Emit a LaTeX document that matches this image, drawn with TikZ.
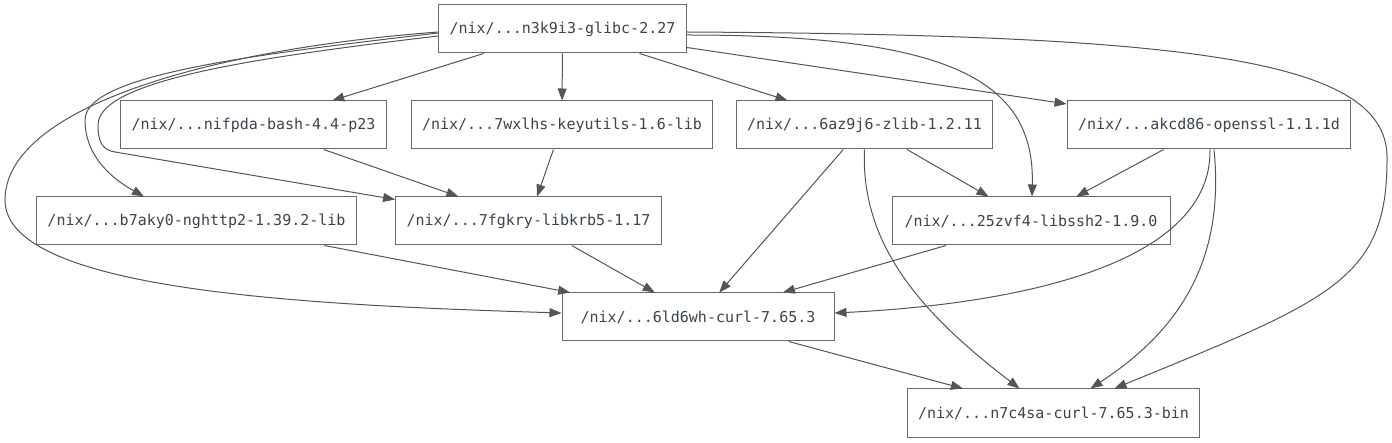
\documentclass[tikz,border=0pt]{standalone}
\usepackage{fontspec}
\setmonofont{DejaVu Sans Mono}
\usepackage{xcolor,tikz}
\usetikzlibrary{arrows.meta,calc}

\definecolor{edgegray}{RGB}{85,85,85}
\definecolor{boxgray}{RGB}{105,105,105}
\definecolor{txtgray}{RGB}{58,68,78}

\tikzset{
 pkg/.style={draw=boxgray,line width=1pt,minimum height=48pt,inner xsep=11pt,
  inner ysep=0pt,text=txtgray,font=\ttfamily\fontsize{15}{18}\selectfont},
 dep/.style={->,draw=edgegray,line width=1pt}
}

\begin{document}
\begin{tikzpicture}[x=1pt,y=-1pt,>={Triangle[length=12pt,width=9pt]}]
 \useasboundingbox (0,0) rectangle (1392,443);
 % packages
 \node[pkg] (glibc) at (562.5,29) {/nix/...n3k9i3-glibc-2.27};
 \node[pkg] (bash) at (253.5,125) {/nix/...nifpda-bash-4.4-p23};
 \node[pkg] (keyutils) at (562,125) {/nix/...7wxlhs-keyutils-1.6-lib};
 \node[pkg] (zlib) at (864.5,125) {/nix/...6az9j6-zlib-1.2.11};
 \node[pkg] (openssl) at (1209,125) {/nix/...akcd86-openssl-1.1.1d};
 \node[pkg] (nghttp2) at (196.5,221) {/nix/...b7aky0-nghttp2-1.39.2-lib};
 \node[pkg] (krb) at (528.5,221) {/nix/...7fgkry-libkrb5-1.17};
 \node[pkg,minimum width=278pt] (ssh) at (1031,221) {/nix/...25zvf4-libssh2-1.9.0};
 \node[pkg,minimum width=272pt] (curl) at (698,317) {/nix/...6ld6wh-curl-7.65.3};
 \node[pkg] (curlbin) at (1053.5,413) {/nix/...n7c4sa-curl-7.65.3-bin};

 % straight dependencies
 \draw[dep] (glibc) -- (bash);
 \draw[dep] (glibc) -- (keyutils);
 \draw[dep] (glibc) -- (zlib);
 \draw[dep] (glibc) -- (openssl);
 \draw[dep] (bash) -- (krb);
 \draw[dep] (keyutils) -- (krb);
 \draw[dep] (zlib) -- (ssh);
 \draw[dep] (zlib) -- (curl);
 \draw[dep] (openssl) -- (ssh);
 \draw[dep] (nghttp2) -- (curl);
 \draw[dep] (krb) -- (curl);
 \draw[dep] (ssh) -- (curl);
 \draw[dep] (curl) -- (curlbin);

 % curved dependencies, left side
 \draw[dep] ($(glibc.west)+(0,4)$) .. controls (250,55) and (85,75) .. (85,120)
  .. controls (85,160) and (118,182) .. ($(nghttp2.north west)+(108,0)$);
 \draw[dep] ($(glibc.west)+(0,7)$) .. controls (260,57) and (98,80) .. (98,125)
  .. controls (98,143) and (103,150) .. (115,152) -- ($(krb.north west)+(0,3)$);
 \draw[dep] ($(glibc.west)+(0,3)$) .. controls (200,50) and (5,110) .. (5,200)
  .. controls (5,290) and (300,305) .. ($(curl.west)+(0,-4)$);

 % curved dependencies, right side
 \draw[dep] ($(glibc.east)+(0,6)$) .. controls (950,35) and (1035,80) .. ($(ssh.north)+(1,0)$);
 \draw[dep] ($(glibc.east)+(0,3)$) .. controls (1200,35) and (1390,60) .. (1387,160)
  .. controls (1387,280) and (1330,300) .. ($(curlbin.north east)+(-86,0)$);
 \draw[dep] ($(openssl.south)+(1,0)$) .. controls (1212,270) and (1000,305) .. ($(curl.east)+(0,-4)$);
 \draw[dep] ($(openssl.south)+(5,0)$) .. controls (1225,260) and (1180,330) .. ($(curlbin.north)+(37,0)$);
 \draw[dep] (zlib.south) .. controls (860,250) and (930,320) .. ($(curlbin.north)+(-34,0)$);
\end{tikzpicture}
\end{document}
